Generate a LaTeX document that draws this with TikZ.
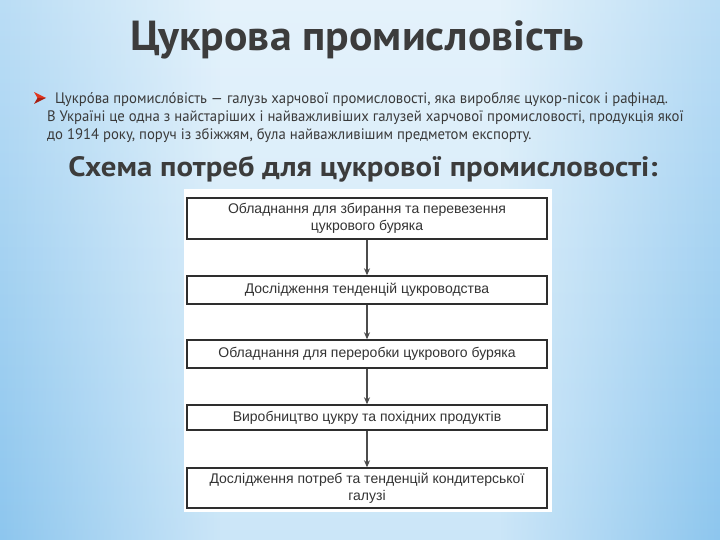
\documentclass[tikz,border=0pt]{standalone}
\usepackage{fontspec}
\setmainfont{PT Sans}
\newfontfamily\titlefont[FakeStretch=1.04]{PT Sans}
\newfontfamily\subfont[FakeStretch=1.1]{PT Sans}
\newfontfamily\bodyfont[FakeStretch=0.97]{PT Sans}
\newfontfamily\boxfont{Liberation Sans}
\usetikzlibrary{arrows.meta,fadings}
\definecolor{bgtop}{HTML}{E4F2FB}
\definecolor{bgbottom}{HTML}{CBE6F8}
\definecolor{sidetop}{HTML}{BADDF5}
\definecolor{sidebottom}{HTML}{8DC6EE}
\definecolor{titlegray}{HTML}{3C3C3C}
\definecolor{bodygray}{HTML}{3A3A3A}
\definecolor{boxline}{HTML}{2E2E2E}
\definecolor{arrowred}{HTML}{E2361F}
\definecolor{arrowdark}{HTML}{A81F12}
\tikzset{
  stepbox/.style={draw=boxline, line width=1.4pt, fill=white, minimum width=360pt,
    inner sep=0pt, align=center, text=black!80, font=\boxfont\fontsize{14}{17}\selectfont},
  flowarrow/.style={draw=black!70, line width=1.3pt, -{Stealth[length=7pt,width=6pt]}},
  bodyline/.style={anchor=base west, inner sep=0pt, text=bodygray, font=\bodyfont\fontsize{15.2}{18}\selectfont}
}
\begin{document}
\begin{tikzpicture}[x=1pt,y=-1pt]
\useasboundingbox (0,0) rectangle (720,540);
% background
\shade[top color=bgtop, bottom color=bgbottom] (0,0) rectangle (720,540);
\shade[top color=sidetop, bottom color=sidebottom, path fading=east] (0,0) rectangle (220,540);
\shade[top color=sidetop, bottom color=sidebottom, path fading=west] (500,0) rectangle (720,540);
% title
\node (title) [text=titlegray, font=\titlefont\bfseries\fontsize{42}{50}\selectfont] at (357,40) {Цукрова промисловість};
% bullet
\fill[arrowred] (34,92) -- (46,98) -- (37.5,98) -- cycle;
\fill[arrowdark] (34,104) -- (46,98) -- (37.5,98) -- cycle;
\node (l1) [bodyline] at (55,104) {Цукро́ва промисло́вість — галузь харчової промисловості, яка виробляє цукор-пісок і рафінад.};
\node (l2) [bodyline] at (47,122) {В Україні це одна з найстаріших і найважливіших галузей харчової промисловості, продукція якої};
\node (l3) [bodyline] at (47,140) {до 1914 року, поруч із збіжжям, була найважливішим предметом експорту.};
% subtitle
\node (sub) [text=titlegray, font=\subfont\bfseries\fontsize{28}{32}\selectfont] at (363,169) {Схема потреб для цукрової промисловості:};
% diagram background
\fill[white] (184,189) rectangle (552,512);
% boxes
\node (b1) [stepbox, minimum height=41pt] at (367,218.5) {Обладнання для збирання та перевезення\\цукрового буряка};
\node (b2) [stepbox, minimum height=28pt] at (367,290) {Дослідження тенденцій цукроводства};
\node (b3) [stepbox, minimum height=28pt] at (367,354) {Обладнання для переробки цукрового буряка};
\node (b4) [stepbox, minimum height=25pt] at (367,417.5) {Виробництво цукру та похідних продуктів};
\node (b5) [stepbox, minimum height=40pt] at (367,488) {Дослідження потреб та тенденцій кондитерської\\галузі};
% arrows
\draw[flowarrow] (b1) -- (b2);
\draw[flowarrow] (b2) -- (b3);
\draw[flowarrow] (b3) -- (b4);
\draw[flowarrow] (b4) -- (b5);
\end{tikzpicture}
\end{document}
